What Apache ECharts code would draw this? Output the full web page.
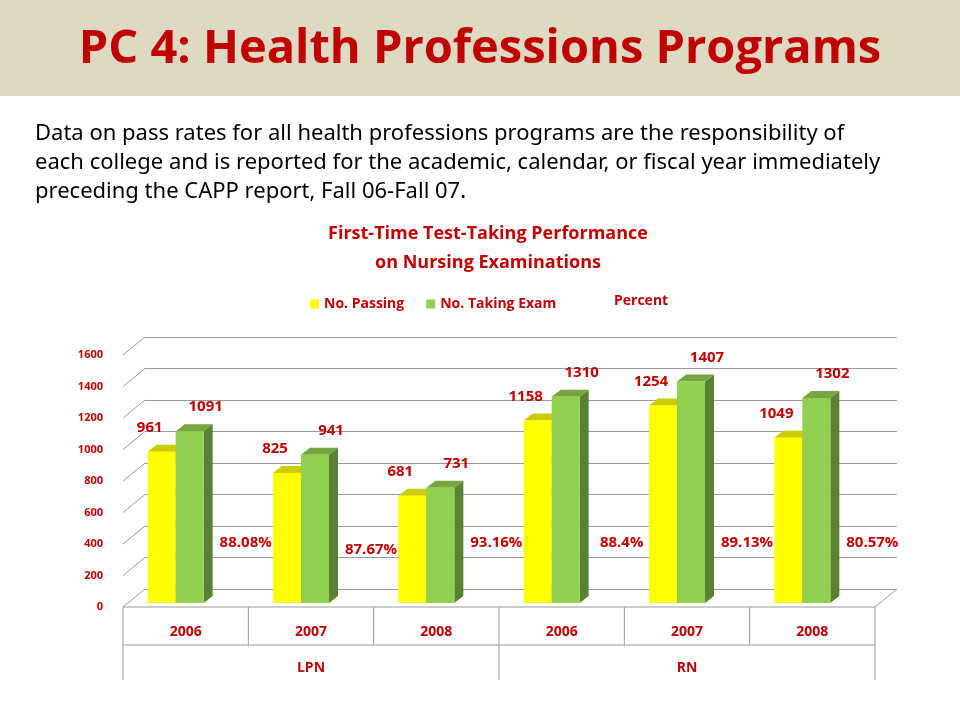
<!DOCTYPE html><html><head><meta charset="utf-8">
<script src="https://cdn.jsdelivr.net/npm/echarts@6/dist/echarts.min.js"></script>
<style>body{margin:0;background:#fff}#c{width:960px;height:720px}</style></head><body><div id="c"></div>
<script>
const years=['2006','2007','2008','2006','2007','2008'];
const groups=['LPN','RN'];
const passing=[961,825,681,1158,1254,1049];
const taking=[1091,941,731,1310,1407,1302];
const percent=['88.08%','87.67%','93.16%','88.4%','89.13%','80.57%'];
const yTicks=[0,200,400,600,800,1000,1200,1400,1600];
const F='"Open Sans", sans-serif', RED='#C00000';
const DX=9,DY=-7,SY=14;
function shade(c,k){const n=parseInt(c.slice(1),16);let r=n>>16,g=n>>8&255,b=n&255;return 'rgb('+[r,g,b].map(v=>Math.round(v*k)).join(',')+')';}
function bar3d(off,color){return function(p,api){
  const i=api.value(0),v=api.value(1);const top=api.coord([i,v]),base=api.coord([i,0]);
  const x=top[0]+off,w=28,y=top[1]+SY,yb=base[1]+SY;
  return {type:'group',children:[
   {type:'polygon',shape:{points:[[x+w,y],[x+w+DX,y+DY],[x+w+DX,yb+DY],[x+w,yb]]},style:{fill:shade(color,0.62)}},
   {type:'polygon',shape:{points:[[x,y],[x+DX,y+DY],[x+w+DX,y+DY],[x+w,y]]},style:{fill:shade(color,0.8)}},
   {type:'rect',shape:{x:x,y:y,width:w,height:yb-y},style:{fill:color}},
   {type:'text',style:{text:String(v),x:x+w/2+(off<-40?-12:16),y:y-24,align:'center',verticalAlign:'middle',fill:RED,font:'bold 15px '+F}}
  ]};};}
const ch=echarts.init(document.getElementById('c'));
const L=123,R=875,w=(R-L)/6;
const g=[
  {type:'rect',shape:{x:0,y:0,width:960,height:96},style:{fill:'#DDD9C3'}},
  {type:'text',style:{text:'PC 4: Health Professions Programs',x:480,y:50,align:'center',verticalAlign:'middle',fill:RED,font:'bold 47px '+F}},
  {type:'text',style:{text:'Data on pass rates for all health professions programs are the responsibility of\neach college and is reported for the academic, calendar, or fiscal year immediately\npreceding the CAPP report, Fall 06-Fall 07.',x:35,y:119,fill:'#000',font:'22px "Noto Sans",sans-serif',lineHeight:29}},
  {type:'text',style:{text:'First-Time Test-Taking Performance\non Nursing Examinations',x:488,y:248,align:'center',verticalAlign:'middle',fill:RED,font:'bold 18px '+F,lineHeight:29}},
  {type:'text',style:{text:'Percent',x:614,y:301,verticalAlign:'middle',fill:RED,font:'bold 14px '+F}},
  {type:'polyline',shape:{points:[[L,607],[L+22,607-18]]},style:{stroke:'#999'}},
  {type:'polyline',shape:{points:[[R,607],[R+22,607-18]]},style:{stroke:'#999'}},
  {type:'polyline',shape:{points:[[L,607],[R,607]]},style:{stroke:'#999'}},
  {type:'polyline',shape:{points:[[L,607],[L,680]]},style:{stroke:'#999'}},
  {type:'polyline',shape:{points:[[R,607],[R,680]]},style:{stroke:'#999'}},
  {type:'polyline',shape:{points:[[L+3*w,607],[L+3*w,680]]},style:{stroke:'#999'}},
  {type:'polyline',shape:{points:[[L,645],[R,645]]},style:{stroke:'#999'}}
];
for(let i=1;i<6;i++)if(i!=3)g.push({type:'polyline',shape:{points:[[L+i*w,607],[L+i*w,645]]},style:{stroke:'#999'}});
for(let k=1;k<=8;k++){const yy=607-k*31.5;g.push({type:'polyline',shape:{points:[[L,yy],[L+22,yy-18]]},style:{stroke:'#999'}});}
yTicks.forEach((t,k)=>g.push({type:'text',style:{text:String(t),x:103,y:607-k*31.5,align:'right',verticalAlign:'middle',fill:RED,font:'bold 11px '+F}}));
years.forEach((y,i)=>g.push({type:'text',style:{text:y,x:L+w*(i+0.5),y:632,align:'center',verticalAlign:'middle',fill:RED,font:'bold 14px '+F}}));
groups.forEach((s,i)=>g.push({type:'text',style:{text:s,x:L+3*w*(i+0.5),y:668,align:'center',verticalAlign:'middle',fill:RED,font:'bold 14px '+F}}));
ch.setOption({
 animation:false,
 graphic:g,
 legend:{top:292,left:305,itemWidth:9,itemHeight:9,itemGap:22,textStyle:{color:RED,fontWeight:'bold',fontSize:14,fontFamily:F},
   data:[{name:'No. Passing',icon:'rect',itemStyle:{color:'#FFFF00'}},{name:'No. Taking Exam',icon:'rect',itemStyle:{color:'#92D050'}}]},
 grid:{left:145,right:63,top:337,bottom:131},
 xAxis:{type:'category',data:years,axisLine:{show:false},axisTick:{show:false},axisLabel:{show:false}},
 yAxis:{type:'value',min:0,max:1600,interval:200,axisLine:{show:false},axisTick:{show:false},axisLabel:{show:false},
   splitLine:{lineStyle:{color:'#999'}}},
 series:[
  {name:'No. Passing',type:'custom',renderItem:bar3d(-60,'#FFFF00'),data:passing.map((v,i)=>[i,v]),itemStyle:{color:'#FFFF00'}},
  {name:'No. Taking Exam',type:'custom',renderItem:bar3d(-32,'#92D050'),data:taking.map((v,i)=>[i,v]),itemStyle:{color:'#92D050'}},
  {name:'Percent',type:'custom',data:percent.map((p,i)=>[i,i==1?248:295]),renderItem:function(p,api){
     const c=api.coord([api.value(0),api.value(1)]);
     return {type:'text',style:{text:percent[p.dataIndex],x:c[0]+38,y:c[1],align:'center',verticalAlign:'middle',fill:RED,font:'bold 15px '+F}};}}
 ]
});
</script></body></html>
